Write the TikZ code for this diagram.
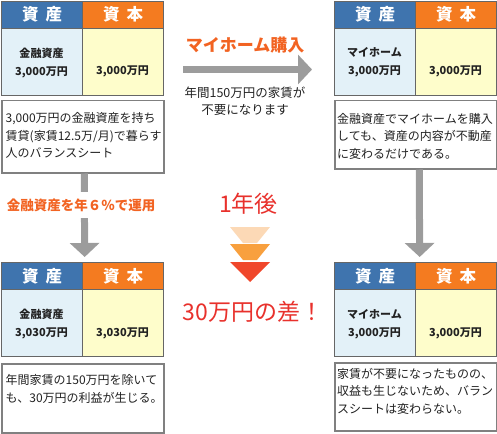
\documentclass[tikz,border=0pt]{standalone}
\usepackage{fontspec}
\setmainfont{Noto Sans CJK JP}
\usetikzlibrary{arrows.meta}
\definecolor{hblue}{HTML}{3F74AE}
\definecolor{horange}{HTML}{F47B20}
\definecolor{bblue}{HTML}{E3F1F8}
\definecolor{byellow}{HTML}{FEFDCB}
\definecolor{bline}{HTML}{666666}
\definecolor{boxline}{HTML}{808080}
\definecolor{agray}{HTML}{9C9C9C}
\definecolor{lorange}{HTML}{F26322}
\definecolor{tred}{HTML}{E8312C}
\definecolor{tpeach}{HTML}{FCD9B6}
\definecolor{torange}{HTML}{F8A03E}
\definecolor{tredd}{HTML}{F0472B}
\definecolor{ink}{HTML}{222222}
\newcommand{\bsheet}[5]{%
  \node[hdrL] (#1hA) at (#2,#3) {資\hspace{7pt}産};
  \node[hdrR] (#1hB) at (#2+81,#3) {資\hspace{7pt}本};
  \node[bodyL] (#1bA) at (#2,#3+27) {};
  \node[bodyR] (#1bB) at (#2+81,#3+27) {};
  \node[val] (#1vA) at (#2+40.5,#3+62) {#4};
  \node[val] (#1vB) at (#2+121.5,#3+71) {#5};
}
\begin{document}
\begin{tikzpicture}[x=1pt,y=-1pt,
  cell/.style={draw=bline, line width=1.2pt, minimum width=81pt, inner sep=0pt, anchor=north west},
  hdrL/.style={cell, fill=hblue, minimum height=27pt, text=white, font=\fontsize{16.5}{16.5}\selectfont\bfseries},
  hdrR/.style={cell, fill=horange, minimum height=27pt, text=white, font=\fontsize{16.5}{16.5}\selectfont\bfseries},
  bodyL/.style={cell, fill=bblue, minimum height=67pt},
  bodyR/.style={cell, fill=byellow, minimum height=67pt},
  val/.style={font=\fontsize{11}{18}\selectfont\bfseries, text=ink, align=center, inner sep=0pt},
  note/.style={draw=boxline, line width=1.5pt, fill=white, anchor=north west, inner sep=0pt},
  notetext/.style={anchor=west, align=left, font=\fontsize{12}{17.5}\selectfont, text=ink, inner sep=0pt},
  garrow/.style={draw=agray, line width=7pt, -{Triangle[width=29pt,length=14pt]}},
  olabel/.style={font=\fontsize{17}{17}\selectfont\bfseries, text=lorange, inner sep=0pt},
  olabelsm/.style={font=\fontsize{13.5}{13.5}\selectfont\bfseries, text=lorange, fill=white, inner xsep=2pt, inner ysep=7pt},
  glabel/.style={font=\fontsize{12.5}{17}\selectfont, text=ink, align=center, inner sep=0pt},
  rlabel/.style={font=\fontsize{23}{23}\selectfont, text=tred, inner sep=0pt}
]
\useasboundingbox (0,0) rectangle (497,433);

% balance sheets
\bsheet{tl}{1}{0.6}{金融資産\\3,000万円}{3,000万円}
\bsheet{tr}{334}{0.6}{マイホーム\\3,000万円}{3,000万円}
\bsheet{bl}{1}{262}{金融資産\\3,030万円}{3,030万円}
\bsheet{br}{334}{262}{マイホーム\\3,000万円}{3,000万円}

% note boxes
\node[note, minimum width=162pt, minimum height=72pt] (tlnote) at (1,100) {};
\node[note, minimum width=162pt, minimum height=68pt] (trnote) at (334,100) {};
\node[note, minimum width=162pt, minimum height=69pt] (blnote) at (1,363) {};
\node[note, minimum width=162pt, minimum height=68pt] (brnote) at (334,362) {};

\node[notetext] (tltext) at (5.5,135.5) {3,000万円の金融資産を持ち\\賃貸(家賃12.5万/月)で暮らす\\人のバランスシート};
\node[notetext] (trtext) at (337,136) {金融資産でマイホームを購入\\しても、資産の内容が不動産\\に変わるだけである。};
\node[notetext] (bltext) at (5.5,389) {年間家賃の150万円を除いて\\も、30万円の利益が生じる。};
\node[notetext] (brtext) at (337,391) {家賃が不要になったものの、\\収益も生じないため、バラン\\スシートは変わらない。};

% arrows
\coordinate (hS) at (183,69.5);
\coordinate (hE) at (312,69.5);
\draw[garrow] (hS) -- (hE);
\draw[garrow, shorten >=5pt] ([xshift=1.5pt]tlnote.south) -- ([xshift=1.5pt]blhA.north east);
\draw[garrow, shorten >=5pt] ([xshift=3.5pt]trnote.south) -- ([xshift=3.5pt]brhA.north east);

% labels
\node[olabel] (buy) at (245,45) {マイホーム購入};
\node[glabel] (rent) at (245,101.5) {年間150万円の家賃が\\不要になります};
\node[olabelsm] (invest) at (81,205) {金融資産を年６％で運用};
\node[rlabel] (year) at (248.5,204) {1年後};
\node[rlabel] (diff) at (253,312) {30万円の差！};

% triangles
\fill[tpeach] (230,227) -- (270,227) -- (257,243) -- (243,243) -- cycle;
\fill[torange] (230,244) -- (270,244) -- (257,260) -- (243,260) -- cycle;
\fill[tredd] (230,262) -- (270,262) -- (250,282) -- cycle;
\end{tikzpicture}
\end{document}
